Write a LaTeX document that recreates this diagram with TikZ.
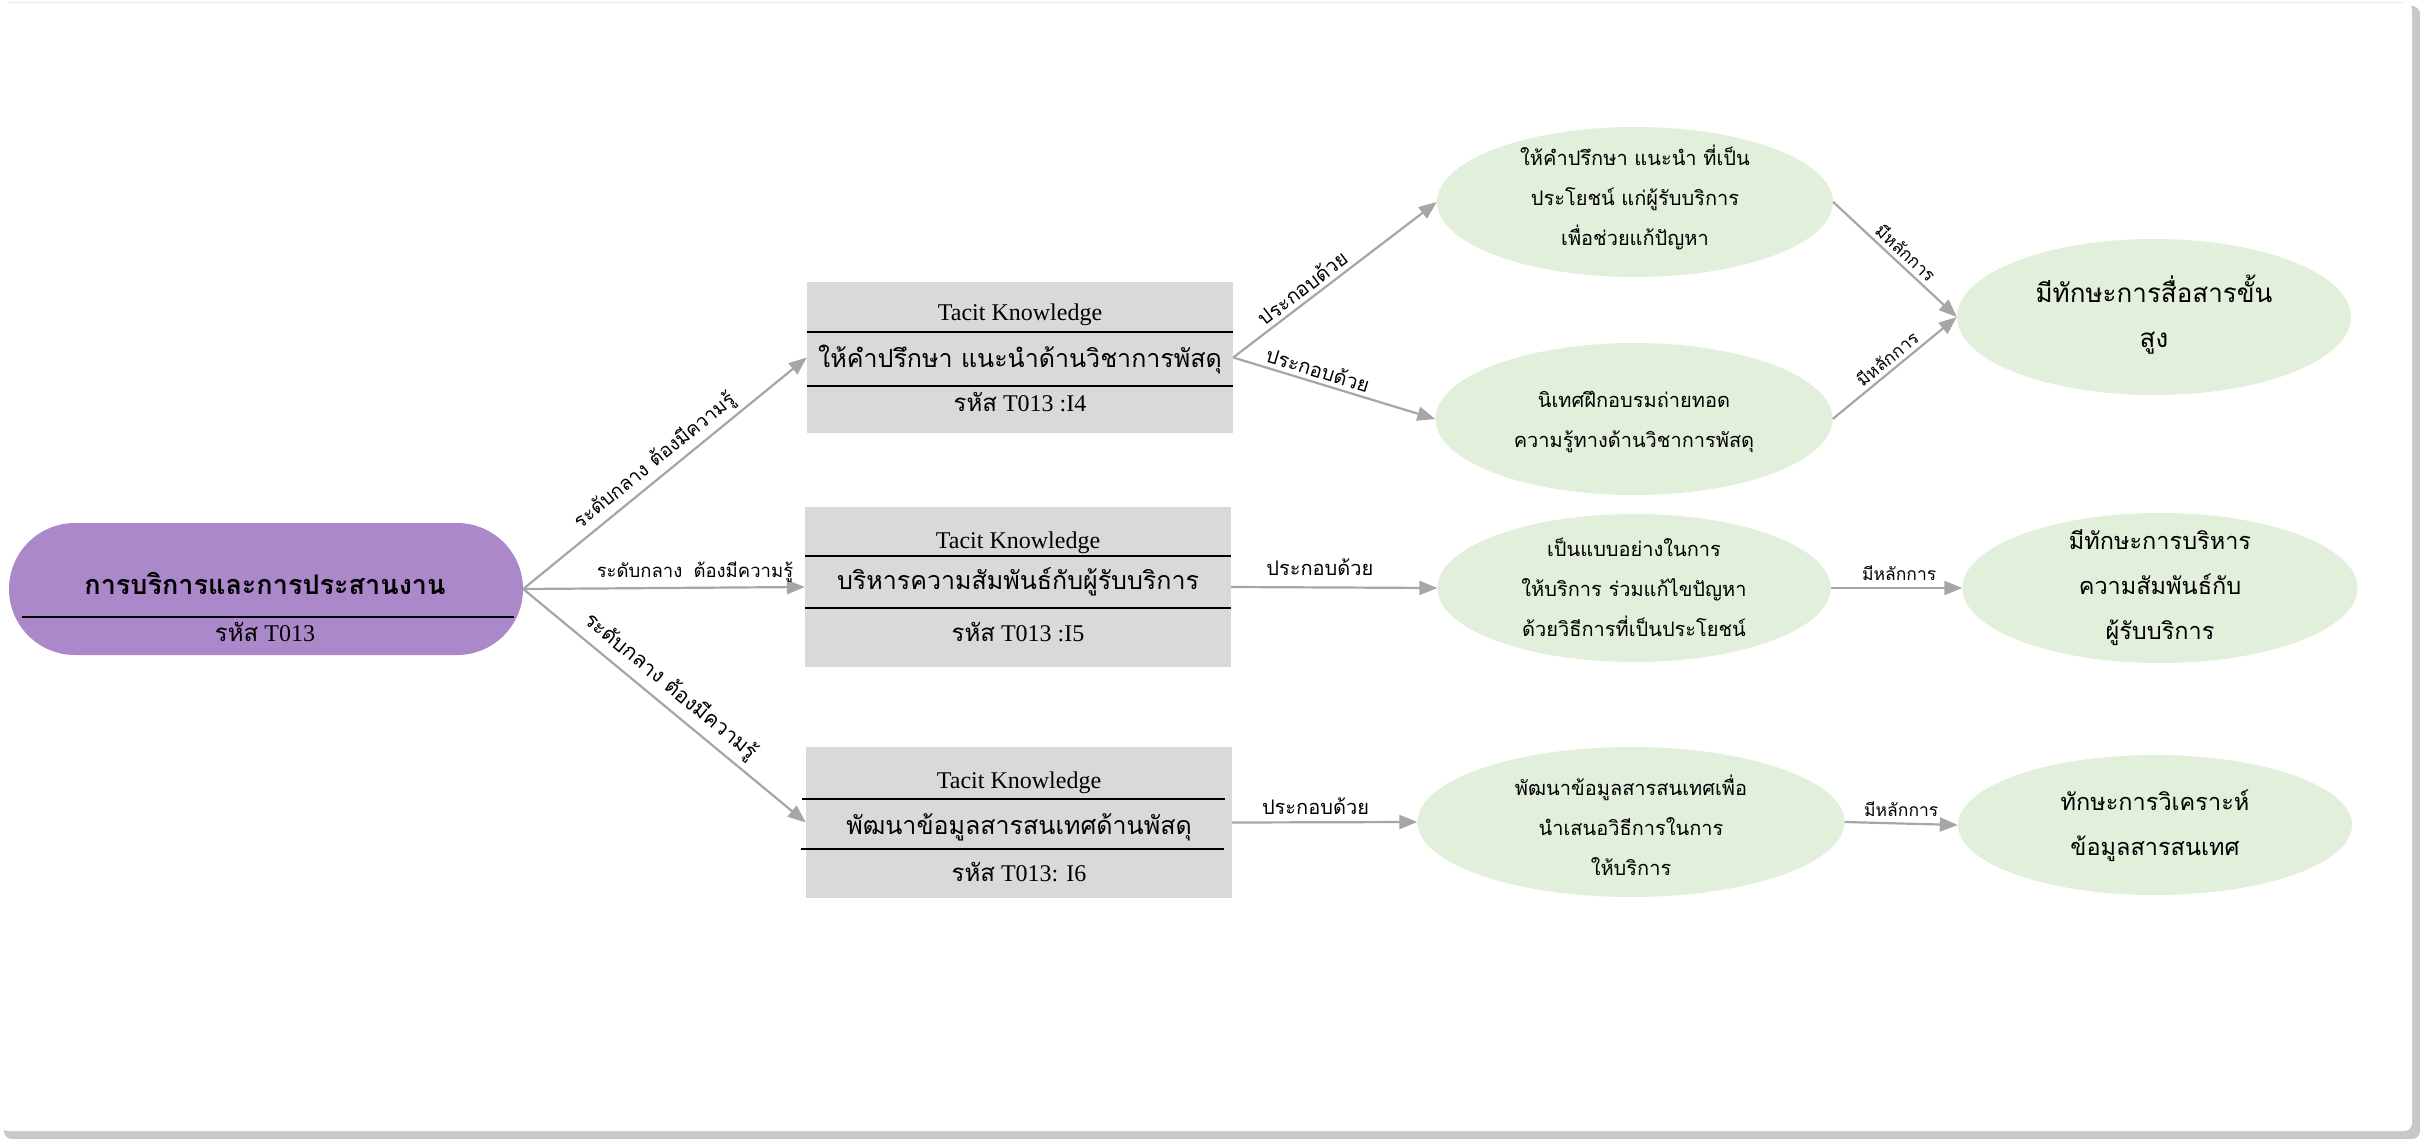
\documentclass[tikz,border=0pt]{standalone}
\usepackage{fontspec}
\setmainfont{Liberation Serif}
\newfontfamily\thfont[Script=Thai]{Loma}
\usetikzlibrary{arrows.meta,shapes.geometric}
\definecolor{rootfill}{HTML}{AB88C9}
\definecolor{boxfill}{HTML}{D9D9D9}
\definecolor{ovalfill}{HTML}{E2EFDA}
\definecolor{linkgray}{HTML}{A6A6A6}
\definecolor{cardshadow}{HTML}{C8C8C8}
\begin{document}
\begin{tikzpicture}[x=1pt,y=-1pt,
  link/.style={draw=linkgray, line width=2.2pt, -{Triangle[length=18pt,width=14pt]}},
  divider/.style={draw=black, line width=1.3pt},
  boxnode/.style={rectangle, fill=boxfill, draw=none, minimum width=426pt, inner sep=0pt},
  oval/.style={ellipse, fill=ovalfill, draw=none, inner sep=0pt},
  lbl/.style={font=\thfont\fontsize{20}{24}\selectfont, inner sep=4pt},
  levellbl/.style={lbl, font=\thfont\fontsize{18.5}{22}\selectfont},
  rulelbl/.style={lbl, font=\thfont\fontsize{17.5}{21}\selectfont},
  latin/.style={font=\fontsize{24}{28}\selectfont, inner sep=0pt},
  boxtext/.style={font=\thfont\fontsize{25}{30}\selectfont, inner sep=0pt},
  ovaltext/.style={font=\thfont\fontsize{20}{40}\selectfont, align=center, inner sep=0pt},
  goaltext/.style={font=\thfont\fontsize{23.5}{45}\selectfont, align=center, inner sep=0pt}]
% page and card
\useasboundingbox (0,0) rectangle (2420,1139);
\fill[white] (0,0) rectangle (2420,1139);
\fill[cardshadow, rounded corners=8pt] (4,6) rectangle (2420,1139);
\fill[white, rounded corners=8pt] (0,2) rectangle (2412,1131);
\draw[gray!15, line width=0.8pt] (8,2.5) -- (2404,2.5);

% root node
\node[rectangle, rounded corners=66pt, fill=rootfill, minimum width=514pt, minimum height=132pt, inner sep=0pt] (root) at (266,589) {};
\node[font=\thfont\bfseries\fontsize{27}{32}\selectfont, inner sep=0pt] (roottitle) at (265,583) {การบริการและการประสานงาน};
\draw[divider] (22,617) -- (514,617);
\node[latin] (rootcode) at (265,632) {{\thfont รหัส} T013};

% knowledge boxes
\node[boxnode, minimum height=151pt] (box1) at (1020,357.5) {};
\node[boxnode, minimum height=160pt] (box2) at (1018,587) {};
\node[boxnode, minimum height=151pt] (box3) at (1019,822.5) {};

\node[latin] (b1a) at (1020,315) {Tacit Knowledge};
\draw[divider] (box1.west |- 0,332) -- (box1.east |- 0,332);
\node[boxtext] (b1b) at (1020,360) {ให้คำปรึกษา แนะนำด้านวิชาการพัสดุ};
\draw[divider] (box1.west |- 0,386) -- (box1.east |- 0,386);
\node[latin] (b1c) at (1020,402) {{\thfont รหัส} T013 :I4};

\node[latin] (b2a) at (1018,543) {Tacit Knowledge};
\draw[divider] (box2.west |- 0,556) -- (box2.east |- 0,556);
\node[boxtext] (b2b) at (1018,582) {บริหารความสัมพันธ์กับผู้รับบริการ};
\draw[divider] (box2.west |- 0,608) -- (box2.east |- 0,608);
\node[latin] (b2c) at (1018,632) {{\thfont รหัส} T013 :I5};

\node[latin] (b3a) at (1019,783) {Tacit Knowledge};
\draw[divider] (802,799) -- (1225,799);
\node[boxtext] (b3b) at (1019,827) {พัฒนาข้อมูลสารสนเทศด้านพัสดุ};
\draw[divider] (801,849) -- (1224,849);
\node[latin] (b3c) at (1019,872) {{\thfont รหัส} T013: I6};

% practice ellipses
\node[oval, minimum width=396pt, minimum height=150pt] (e1) at (1635,202) {};
\node[oval, minimum width=397pt, minimum height=152pt] (e2) at (1634,419) {};
\node[oval, minimum width=393pt, minimum height=148pt] (e3) at (1634,588) {};
\node[oval, minimum width=427pt, minimum height=150pt] (e4) at (1631,822) {};

\node[ovaltext] (e1t) at (1635,197) {ให้คำปรึกษา แนะนำ ที่เป็น\\ประโยชน์ แก่ผู้รับบริการ\\เพื่อช่วยแก้ปัญหา};
\node[ovaltext] (e2t) at (1634,422) {นิเทศฝึกอบรมถ่ายทอด\\ความรู้ทางด้านวิชาการพัสดุ};
\node[ovaltext] (e3t) at (1634,587) {เป็นแบบอย่างในการ\\ให้บริการ ร่วมแก้ไขปัญหา\\ด้วยวิธีการที่เป็นประโยชน์};
\node[ovaltext] (e4t) at (1631,825) {พัฒนาข้อมูลสารสนเทศเพื่อ\\นำเสนอวิธีการในการ\\ให้บริการ};

% skill ellipses
\node[oval, minimum width=394pt, minimum height=156pt] (r1) at (2154,317) {};
\node[oval, minimum width=395pt, minimum height=150pt] (r2) at (2160,588) {};
\node[oval, minimum width=394pt, minimum height=140pt] (r3) at (2155,825) {};

\node[goaltext, font=\thfont\fontsize{26}{45}\selectfont] (r1t) at (2154,315) {มีทักษะการสื่อสารขั้น\\สูง};
\node[goaltext] (r2t) at (2160,588) {มีทักษะการบริหาร\\ความสัมพันธ์กับ\\ผู้รับบริการ};
\node[goaltext] (r3t) at (2155,826) {ทักษะการวิเคราะห์\\ข้อมูลสารสนเทศ};

% connectors
\draw[link] (root.east) -- node[levellbl, font=\thfont\fontsize{19.5}{23}\selectfont, sloped, above, pos=0.5] (l1) {ระดับกลาง ต้องมีความรู้} (box1.west);
\draw[link] (root.east) -- node[levellbl, above, pos=0.61] (l2) {ระดับกลาง\hspace{5pt} ต้องมีความรู้} (box2.west);
\draw[link] (root.east) -- node[levellbl, font=\thfont\fontsize{21}{25}\selectfont, sloped, above, pos=0.48, inner sep=6pt] (l3) {ระดับกลาง ต้องมีความรู้} (box3.west);

\draw[link] (box1.east) -- node[lbl, sloped, above, pos=0.38] (l4) {ประกอบด้วย} (e1.west);
\draw[link] (box1.east) -- node[lbl, sloped, above, pos=0.4] (l5) {ประกอบด้วย} (e2.west);
\draw[link] (box2.east) -- node[lbl, above, pos=0.43, yshift=7pt] (l6) {ประกอบด้วย} (e3.west);
\draw[link] (box3.east) -- node[lbl, above, pos=0.45, yshift=3pt] (l7) {ประกอบด้วย} (e4.west);

\draw[link] (e1.east) -- node[rulelbl, sloped, above, pos=0.52] (l8) {มีหลักการ} (r1.west);
\draw[link] (e2.east) -- node[rulelbl, sloped, above, pos=0.5] (l9) {มีหลักการ} (r1.west);
\draw[link] (e3.east) -- node[rulelbl, above, pos=0.52, yshift=2pt] (l10) {มีหลักการ} (r2.west);
\draw[link] (e4.east) -- node[rulelbl, above, pos=0.5, yshift=2pt] (l11) {มีหลักการ} (r3.west);
\end{tikzpicture}
\end{document}
